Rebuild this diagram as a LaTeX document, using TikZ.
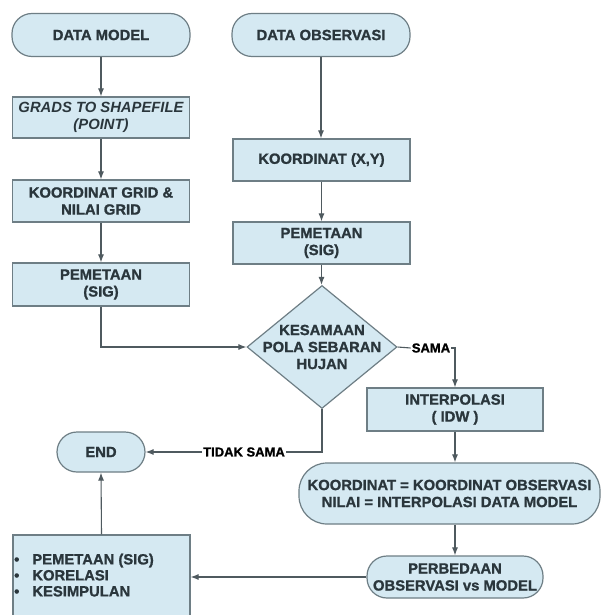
\documentclass[tikz,border=0pt]{standalone}
\usepackage{fontspec}
\setmainfont{Liberation Sans}[BoldFeatures={FakeBold=1.2}]
\usetikzlibrary{shapes.geometric,arrows.meta}
\definecolor{fillc}{HTML}{D5E9F2}
\definecolor{bordc}{HTML}{6E7E85}
\definecolor{linec}{HTML}{4F5A5F}
\definecolor{txtc}{HTML}{2A363C}
\tikzset{
  box/.style={draw=bordc, fill=fillc, line width=1.2pt, text=txtc,
    font=\bfseries\fontsize{14.8}{17}\selectfont, align=center, inner sep=0pt},
  term/.style={box, rounded corners=20pt},
  arr/.style={draw=linec, line width=1.1pt, -{Latex[length=8pt,width=6pt]}},
  ln/.style={draw=linec, line width=1.1pt},
  lbl/.style={font=\fontsize{13}{15}\selectfont\bfseries, text=black, inner sep=1pt},
  txt/.style={text=txtc, font=\bfseries\fontsize{14.8}{17}\selectfont, align=center, inner sep=0pt}
}
\begin{document}
\begin{tikzpicture}[x=1pt,y=-1pt]
\useasboundingbox (0,0) rectangle (600,615);
\fill[white] (0,0) rectangle (600,615);

\node[term, minimum width=178pt, minimum height=43pt] (dm) at (101,35) {DATA MODEL};
\node[term, minimum width=178pt, minimum height=43pt] (dobs) at (321,35) {DATA OBSERVASI};
\node[box, minimum width=177pt, minimum height=41pt] (grads) at (101,117.5) {\itshape GRADS TO SHAPEFILE\\\itshape (POINT)};
\node[box, minimum width=177pt, minimum height=42pt] (kgrid) at (101,201) {KOORDINAT GRID \&\\NILAI GRID};
\node[box, minimum width=177pt, minimum height=43pt] (peml) at (101,284.5) {PEMETAAN\\(SIG)};
\node[box, minimum width=177pt, minimum height=42pt] (kxy) at (321.5,160) {KOORDINAT (X,Y)};
\node[box, minimum width=177pt, minimum height=42pt] (pemr) at (321.5,243) {PEMETAAN\\(SIG)};
\node[draw=bordc, fill=fillc, line width=1.2pt, diamond, minimum width=150pt, minimum height=123pt, inner sep=0pt] (dec) at (322,347) {};
\node[txt] (dectxt) at (dec.center) {KESAMAAN\\POLA SEBARAN\\HUJAN};
\node[box, minimum width=176pt, minimum height=43pt] (interp) at (455,409.5) {INTERPOLASI\\( IDW )};
\node[term, rounded corners=28pt, minimum width=301pt, minimum height=61pt] (koord) at (449.5,493.5) {KOORDINAT = KOORDINAT OBSERVASI\\NILAI = INTERPOLASI DATA MODEL};
\node[term, minimum width=176pt, minimum height=42pt] (perb) at (455,577) {PERBEDAAN\\OBSERVASI vs MODEL};
\node[term, minimum width=88pt, minimum height=40pt] (endn) at (101,452) {END};
\node[box, minimum width=177pt, minimum height=90pt] (list) at (101.5,580) {};
\node[txt, anchor=west, align=left] (items) at (14,577) {%
  \begin{tabular}{@{}l@{\hspace{13pt}}l@{}}
  • & PEMETAAN (SIG)\\[-1pt]
  • & KORELASI\\[-1pt]
  • & KESIMPULAN
  \end{tabular}};
\node[lbl] (sama) at (431,348) {SAMA};
\node[lbl] (tidak) at (244,452) {TIDAK SAMA};

\draw[arr] (dm) -- (grads);
\draw[arr] (grads) -- (kgrid);
\draw[arr] (kgrid) -- (peml);
\draw[arr] (peml.south) |- (dec.west);
\draw[arr] (dobs.south) -- (dobs.south |- kxy.north);
\draw[arr] (kxy) -- (pemr);
\draw[arr] (pemr.south) -- (pemr.south |- dec.north);
\draw[ln] (dec.east) -- (sama.west);
\draw[arr] (sama.east) -| (interp.north);
\draw[ln] (dec.south) |- (tidak.east);
\draw[arr] (tidak.west) -- (endn.east);
\draw[arr] (interp.south) -- (interp.south |- koord.north);
\draw[arr] (interp.south |- koord.south) -- (perb.north);
\draw[arr] (perb.west) -- (perb.west -| list.east);
\draw[arr] (list.north) -- (endn.south);
\end{tikzpicture}
\end{document}
